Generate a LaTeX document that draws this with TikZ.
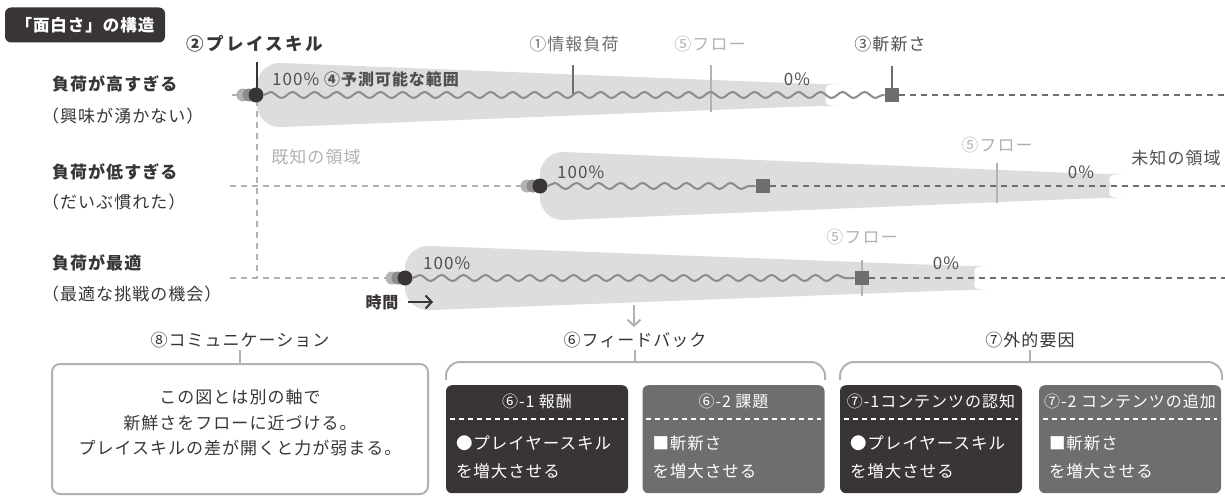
\documentclass[tikz,border=0pt]{standalone}
\usepackage{fontspec}
\setmainfont{Noto Sans CJK JP}[LetterSpace=6]
\usetikzlibrary{positioning,decorations.pathmorphing,arrows.meta}
\definecolor{inkdark}{RGB}{58,53,53}
\definecolor{midgray}{RGB}{110,110,110}
\definecolor{textgray}{RGB}{80,80,80}
\definecolor{wavegray}{RGB}{140,140,140}
\definecolor{palegray}{RGB}{178,178,178}
\definecolor{bandgray}{RGB}{221,221,221}

\begin{document}
\begin{tikzpicture}[x=1pt, y=-1pt,
  every node/.style={inner sep=0pt, text=inkdark, font=\fontsize{17}{20}\selectfont},
  titlebox/.style={rectangle, fill=inkdark, text=white, rounded corners=6pt, minimum width=160pt, minimum height=35pt, font=\fontsize{16.5}{19}\selectfont\bfseries},
  rowlabel/.style={anchor=west, font=\fontsize{17}{20}\selectfont\bfseries},
  sublabel/.style={anchor=west},
  flowlabel/.style={text=palegray},
  pct/.style={text=textgray},
  band/.style={fill=bandgray, rounded corners=24pt},
  wave/.style={draw=wavegray, line width=2pt, decorate, decoration={snake, amplitude=3pt, segment length=22pt}},
  known/.style={draw=palegray, line width=2.5pt, dash pattern=on 6pt off 5pt},
  unknown/.style={draw=midgray, line width=2.5pt, dash pattern=on 6pt off 5pt},
  skill/.style={circle, fill=inkdark, minimum size=15pt},
  novelty/.style={rectangle, fill=midgray, minimum size=14.5pt},
  arrow/.style={line width=2pt, ->, >={Straight Barb[length=6pt, width=13pt]}, color=inkdark},
  bracket/.style={draw=palegray, line width=2pt, rounded corners=14pt},
  commbox/.style={rectangle, draw=palegray, line width=2pt, rounded corners=8pt, minimum width=376pt, minimum height=130pt, anchor=north},
  infobox/.style={rectangle, rounded corners=6pt, minimum width=182pt, minimum height=108pt, anchor=north},
  boxhead/.style={text=white, font=\fontsize{16}{19}\selectfont},
  boxbody/.style={text=white, align=left, anchor=west, font=\fontsize{16.5}{28}\selectfont},
  sepline/.style={draw=white, line width=2pt, dash pattern=on 5pt off 4pt}
]
\useasboundingbox (0,0) rectangle (1225,495);
\clip (0,0) rectangle (1225,495);

% bands
\fill[band] (257,95) -- (257,62) -- (815,84) arc[start angle=-90, end angle=90, radius=11] -- (257,128) -- cycle;
\fill[band] (540,186) -- (540,151) -- (1098,174) arc[start angle=-90, end angle=90, radius=12] -- (540,221) -- cycle;
\fill[band] (405,278) -- (405,245) -- (963,266) arc[start angle=-90, end angle=90, radius=12] -- (405,311) -- cycle;

\node[titlebox] (title) at (85,25) {「面白さ」の構造};

% row labels
\node[rowlabel] (high) at (52,84) {負荷が高すぎる};
\node[sublabel] (highsub) at (42,116) {（興味が湧かない）};
\node[rowlabel] (low) at (52,172) {負荷が低すぎる};
\node[sublabel] (lowsub) at (42,202) {（だいぶ慣れた）};
\node[rowlabel] (best) at (52,263) {負荷が最適};
\node[sublabel] (bestsub) at (42,294) {（最適な挑戦の機会）};

% axes
\coordinate (k0) at (257,100);
\coordinate (k1) at (257,278);
\draw[known] (k0) -- (k1);
\coordinate (a1) at (232,95);
\coordinate (a2) at (230,186);
\coordinate (a3) at (230,278);
\coordinate (e1) at (1225,95);
\coordinate (e2) at (1225,186);
\coordinate (e3) at (1225,278);

% row 1
\draw[known] (a1) -- (238,95);
\fill[palegray] (243,95) circle (6.5);
\fill[wavegray] (249,95) circle (6.5);
\node[novelty] (n1) at (892,95) {};
\draw[unknown] (n1) -- (e1);
\draw[line width=2pt, midgray] (573,65) -- (573,95);
\draw[line width=2pt, palegray] (711,65) -- (711,112);
\draw[line width=2pt, inkdark] (257,62) -- (257,95);
\draw[line width=2pt, midgray] (892,66) -- (n1);
\node[skill] (p1) at (256,95) {};
\draw[wave] (p1.east) -- (n1.west);
\node[font=\fontsize{17.5}{20}\selectfont\bfseries\addfontfeature{LetterSpace=14}] (skilllab) at (255,44) {②プレイスキル};
\node[text=midgray] (loadlab) at (574,44) {①情報負荷};
\node[flowlabel] (flow1) at (710,44) {⑤フロー};
\node[text=textgray] (novlab) at (890,44) {③斬新さ};
\node[pct, anchor=west] (full1) at (272,79) {100\%};
\node[anchor=west, font=\fontsize{16}{19}\selectfont\bfseries, text=textgray] (range) at (324,79) {④予測可能な範囲};
\node[pct] (zero1) at (797,79) {0\%};

% row 2
\draw[known] (a2) -- (527,186);
\fill[palegray] (527,186) circle (6.5);
\fill[wavegray] (533,186) circle (6.5);
\node[novelty] (n2) at (763,186) {};
\draw[unknown] (n2) -- (e2);
\draw[line width=2pt, palegray] (997,163) -- (997,203);
\node[skill] (p2) at (540,186) {};
\draw[wave] (p2.east) -- (n2.west);
\node[pct, anchor=west] (full2) at (557,172) {100\%};
\node[pct] (zero2) at (1081,172) {0\%};
\node[flowlabel] (flow2) at (997,145) {⑤フロー};
\node[text=palegray] (knownlab) at (316,157) {既知の領域};
\node[text=textgray] (unknownlab) at (1176,158) {未知の領域};

% row 3
\draw[known] (a3) -- (392,278);
\fill[palegray] (392,278) circle (6.5);
\fill[wavegray] (398,278) circle (6.5);
\draw[line width=2pt, palegray] (862,260) -- (862,296);
\node[novelty] (n3) at (862,278) {};
\draw[unknown] (n3) -- (e3);
\node[skill] (p3) at (405,278) {};
\draw[wave] (p3.east) -- (n3.west);
\node[pct, anchor=west] (full3) at (423,263) {100\%};
\node[pct] (zero3) at (946,263) {0\%};
\node[flowlabel] (flow3) at (862,237) {⑤フロー};
\node[font=\fontsize{16}{19}\selectfont\bfseries] (time) at (382,302) {時間};
\coordinate (timeend) at (433,302);
\draw[arrow] ([xshift=9pt]time.east) -- (timeend);
\coordinate (fbstart) at (634,305);
\coordinate (fbend) at (634,327);
\draw[line width=2pt, palegray, -{Straight Barb[length=6pt, width=13pt]}] (fbstart) -- (fbend);

% bottom: communication
\node (commlab) at (240,340) {⑧コミュニケーション};
\node[commbox] (comm) at (240,363) {};
\draw[line width=2pt, palegray] (commlab.south) ++(0,2) -- (comm.north);
\node[align=center, font=\fontsize{17}{25.5}\selectfont] (commtext) at (240,423) {この図とは別の軸で\\新鮮さをフローに近づける。\\プレイスキルの差が開くと力が弱まる。};

% bottom: feedback
\node (fblab) at (635,340) {⑥フィードバック};
\coordinate (fbtop) at (635,362);
\draw[bracket] (446,380) -- (446,362) -- (825,362) -- (825,380);
\draw[line width=2pt, palegray] (fblab.south) ++(0,2) -- (fbtop);
\node[infobox, fill=inkdark] (fb1) at (537,385) {};
\node[infobox, fill=midgray] (fb2) at (733.5,385) {};
\node[boxhead, below=9pt of fb1.north] (fb1head) {⑥-1 報酬};
\node[boxhead, below=9pt of fb2.north] (fb2head) {⑥-2 課題};
\draw[sepline] ([xshift=4pt, yshift=-34pt]fb1.north west) -- ([xshift=-4pt, yshift=-34pt]fb1.north east);
\draw[sepline] ([xshift=4pt, yshift=-34pt]fb2.north west) -- ([xshift=-4pt, yshift=-34pt]fb2.north east);
\node[boxbody] (fb1body) at ([xshift=10pt, yshift=-72pt]fb1.north west) {●プレイヤースキル\\を増大させる};
\node[boxbody] (fb2body) at ([xshift=10pt, yshift=-72pt]fb2.north west) {■斬新さ\\を増大させる};

% bottom: external
\node (exlab) at (1030,340) {⑦外的要因};
\coordinate (extop) at (1030,362);
\draw[bracket] (840,380) -- (840,362) -- (1222,362) -- (1222,380);
\draw[line width=2pt, palegray] (exlab.south) ++(0,2) -- (extop);
\node[infobox, fill=inkdark] (ex1) at (931,385) {};
\node[infobox, fill=midgray] (ex2) at (1130,385) {};
\node[boxhead, below=9pt of ex1.north] (ex1head) {⑦-1コンテンツの認知};
\node[boxhead, below=9pt of ex2.north] (ex2head) {⑦-2 コンテンツの追加};
\draw[sepline] ([xshift=4pt, yshift=-34pt]ex1.north west) -- ([xshift=-4pt, yshift=-34pt]ex1.north east);
\draw[sepline] ([xshift=4pt, yshift=-34pt]ex2.north west) -- ([xshift=-4pt, yshift=-34pt]ex2.north east);
\node[boxbody] (ex1body) at ([xshift=10pt, yshift=-72pt]ex1.north west) {●プレイヤースキル\\を増大させる};
\node[boxbody] (ex2body) at ([xshift=10pt, yshift=-72pt]ex2.north west) {■斬新さ\\を増大させる};
\end{tikzpicture}
\end{document}
